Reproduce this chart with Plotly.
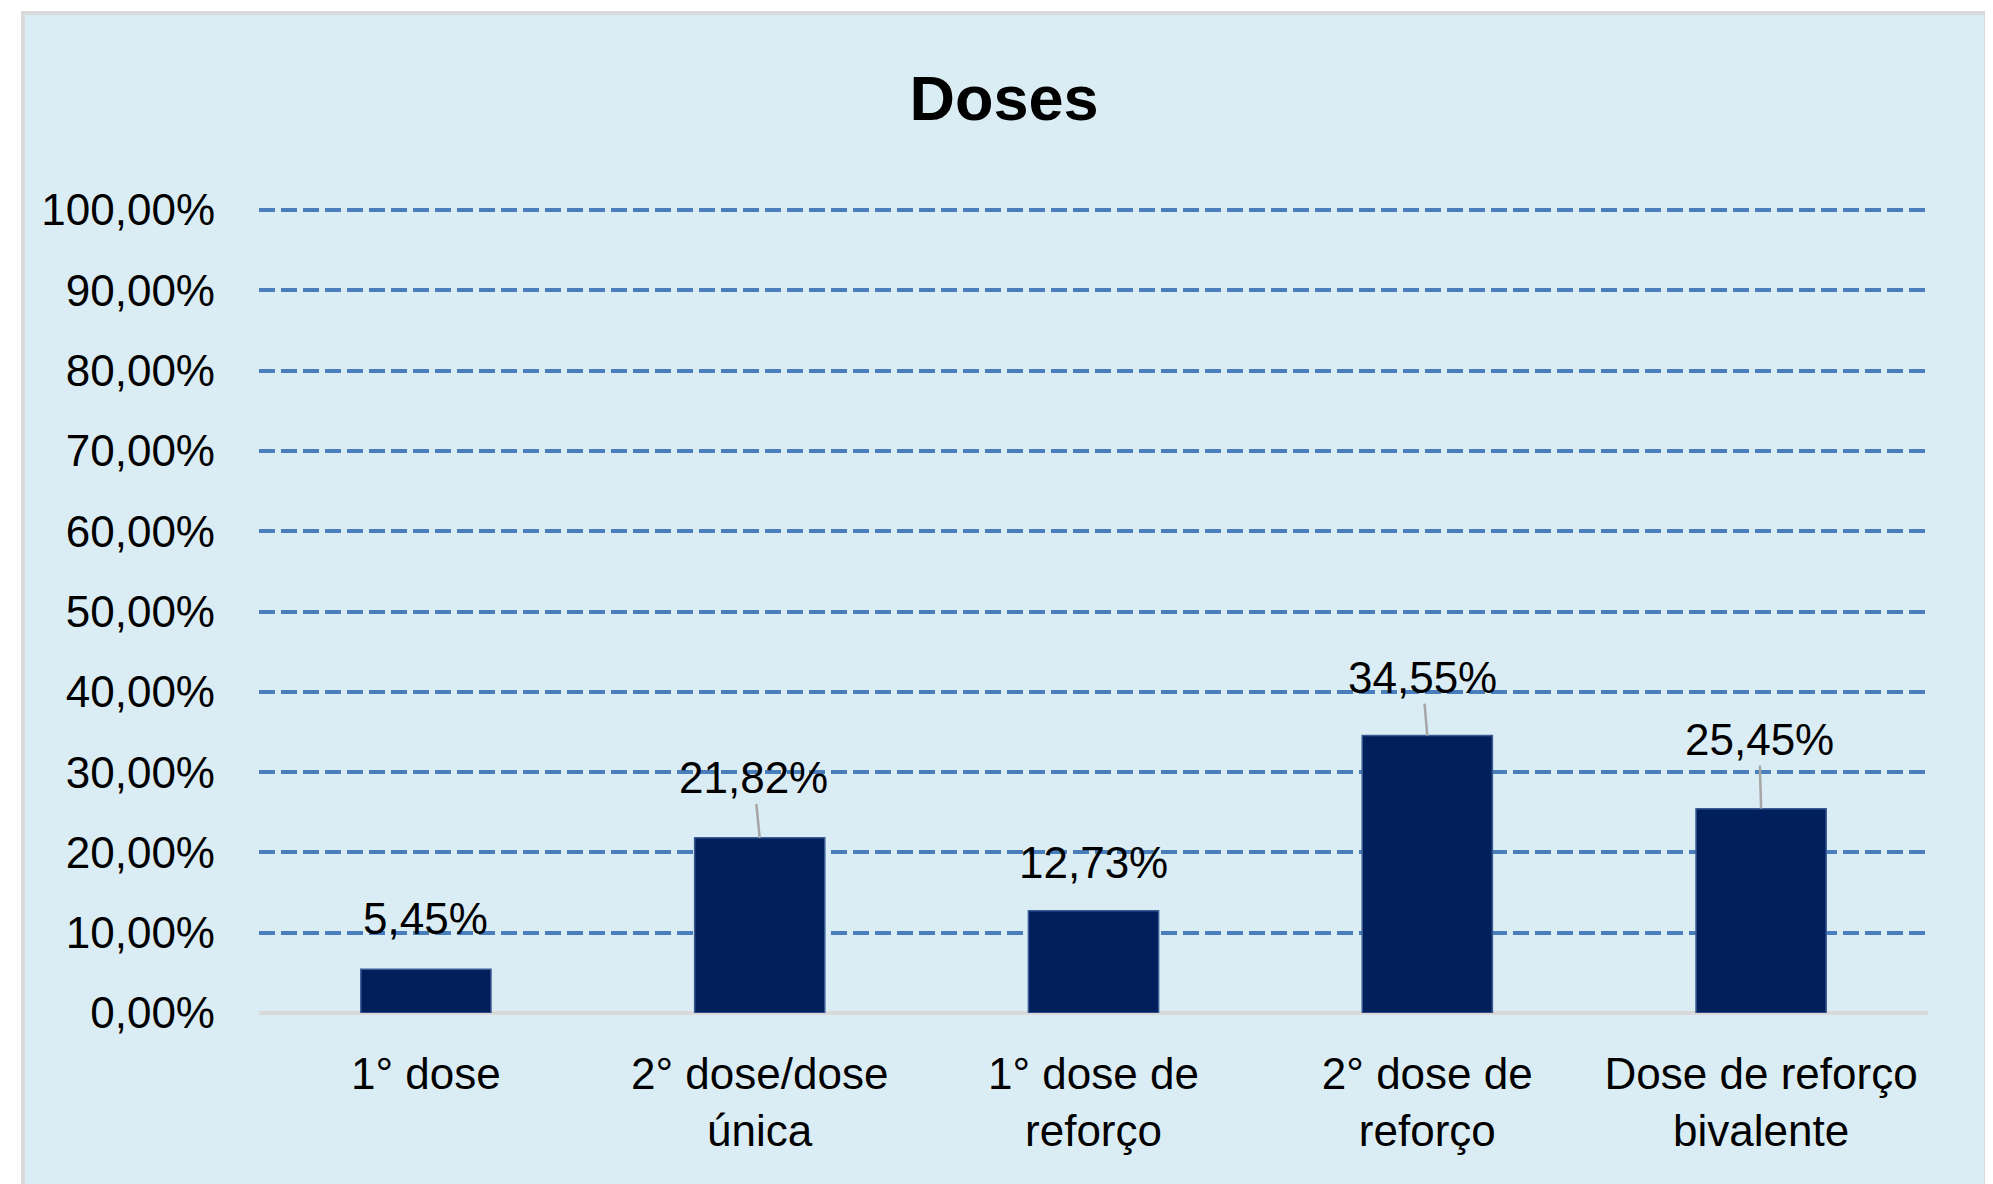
import plotly.graph_objects as go

categories = ["1° dose", "2° dose/dose<br>única", "1° dose de<br>reforço", "2° dose de<br>reforço", "Dose de reforço<br>bivalente"]
values = [5.45, 21.82, 12.73, 34.55, 25.45]
y_ticks = [0, 10, 20, 30, 40, 50, 60, 70, 80, 90, 100]
y_tick_labels = ["0,00%", "10,00%", "20,00%", "30,00%", "40,00%", "50,00%", "60,00%", "70,00%", "80,00%", "90,00%", "100,00%"]
title_text = "Doses"

W, H = 1993, 1184
OFF = 8  # page body margin
ML, MR, MT, MB = 259 - OFF, 73, 210 - OFF, 179
PW, PH = W - ML - MR, H - MT - MB

FONT = "Liberation Sans Narrow, Arial Narrow, Liberation Sans, Arial, sans-serif"
BG = "#DBEDF4"
BAR = "#001F5B"
GRID = "#4A7EBB"
FS = 44
Y_MAX = y_ticks[-1]

fig = go.Figure()
fig.add_trace(go.Bar(
    x=categories, y=values,
    marker=dict(color=BAR, line=dict(color="#3A5A94", width=1.5)),
    hoverinfo="skip",
))

def px_to_paper_x(px):
    return (px - OFF - ML) / PW

def px_to_paper_y(py):
    return (H - MB - (py - OFF)) / PH

# chart area background with border
fig.add_shape(type="rect", xref="paper", yref="paper",
              x0=px_to_paper_x(23), x1=px_to_paper_x(1986),
              y0=px_to_paper_y(1260), y1=px_to_paper_y(13),
              fillcolor=BG, line=dict(color="#D9D9D9", width=4), layer="below")

# top gridline (plotly skips gridlines at the range edge)
fig.add_shape(type="line", xref="paper", yref="paper", x0=0, x1=1, y0=1, y1=1,
              line=dict(color=GRID, width=4, dash="16px,6px"), layer="below")

# data labels (pixel lift above bar top, horizontal offset, leader line shown)
label_style = [(-51, 0, False), (-60, -6, True), (-48, 0, False), (-58, -5, True), (-69, -2, True)]
for cat, v, (ay, ax, arrow) in zip(categories, values, label_style):
    txt = f"{v:.2f}%".replace(".", ",")
    if arrow:
        fig.add_annotation(x=cat, y=v, text=txt, showarrow=True, arrowhead=0,
                           ax=ax, ay=ay, arrowcolor="#A6A6A6", arrowwidth=2.5, standoff=0,
                           font=dict(family=FONT, size=FS, color="black"))
    else:
        fig.add_annotation(x=cat, y=v, text=txt, showarrow=False, yshift=-ay, xshift=ax,
                           font=dict(family=FONT, size=FS, color="black"))

fig.update_layout(
    width=W, height=H,
    margin=dict(l=ML, r=MR, t=MT, b=MB, pad=0, autoexpand=False),
    paper_bgcolor="white", plot_bgcolor="rgba(0,0,0,0)",
    bargap=0.61,
    showlegend=False,
    title=dict(text=title_text, xref="container", yref="container", x=(1004 - OFF) / W, y=1 - 90 / H,
               xanchor="center", yanchor="middle",
               font=dict(family=FONT, size=63, color="black", weight="bold")),
    font=dict(family=FONT, size=FS, color="black"),
)
fig.update_xaxes(showgrid=False, showline=False, zeroline=False, ticks="", automargin=False,
                 tickfont=dict(family=FONT, size=FS, color="black"), ticklabelstandoff=31)
fig.update_yaxes(range=[0, Y_MAX], tickvals=y_ticks, ticktext=y_tick_labels, automargin=False,
                 showgrid=True, gridcolor=GRID, gridwidth=4, griddash="16px,6px",
                 zeroline=True, zerolinecolor="#D9D9D9", zerolinewidth=4,
                 showline=False, ticks="",
                 tickfont=dict(family=FONT, size=FS, color="black"), ticklabelstandoff=43)

fig.write_html("out.html")
